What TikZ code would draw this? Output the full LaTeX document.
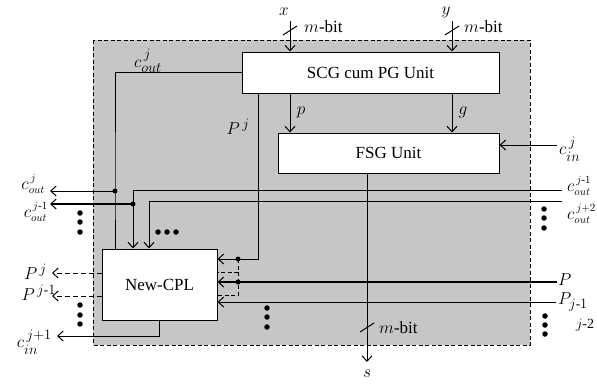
\documentclass[tikz,border=0pt]{standalone}
\usepackage{amsmath}
\usepackage{fontspec}
\setmainfont{Liberation Serif}
\usepackage{tikz}
\usetikzlibrary{arrows.meta,calc}

\begin{document}
\begin{tikzpicture}[x=1pt, y=-1pt,
    unitbox/.style={draw, fill=white, line width=1pt, inner sep=0pt, font=\fontsize{17}{20}\selectfont},
    wire/.style={line width=1pt},
    heavy/.style={line width=1.4pt},
    sig/.style={wire, -{Straight Barb[length=5.5pt, width=10pt, line width=1pt]}},
    dsig/.style={sig, dash pattern=on 5pt off 3pt},
    lbl/.style={font=\fontsize{19}{22}\selectfont, inner sep=1pt},
    tlbl/.style={font=\fontsize{16}{18}\selectfont, inner sep=0pt},
    mbit/.style={font=\fontsize{17}{20}\selectfont, inner sep=1pt},
    slbl/.style={font=\fontsize{14}{16}\selectfont, inner sep=1pt},
    jdot/.style={circle, fill=black, minimum size=5pt, inner sep=0pt},
    vdot/.style={circle, fill=black, minimum size=5.5pt, inner sep=0pt}
]
\useasboundingbox (0,0) rectangle (597,383);
% Enclosing block
\draw[line width=0.7pt, dash pattern=on 4pt off 2.5pt, fill=gray!45] (93,40) rectangle (530,345);
% Units
\node[unitbox, minimum width=257pt, minimum height=41pt] (scg) at (370.5,72.5) {SCG cum PG Unit};
\node[unitbox, minimum width=221pt, minimum height=40pt] (fsg) at (388.5,153) {FSG Unit};
\node[unitbox, minimum width=115pt, minimum height=71pt] (ncpl) at (159.5,284.5) {New-CPL};
% Inputs x and y
\coordinate (xin) at (290,21);
\coordinate (yin) at (452,21);
\draw[sig] (xin) -- (xin |- scg.north);
\draw[sig] (yin) -- (yin |- scg.north);
\draw[wire] (283,35) -- (297,26);
\draw[wire] (445,35) -- (459,26);
\node[lbl] (xlab) at (284,12) {$x$};
\node[lbl] (ylab) at (446,12) {$y$};
\node[mbit, anchor=west] (mx) at (303,27) {$m$-bit};
\node[mbit, anchor=west] (my) at (463,27) {$m$-bit};
% p and g
\draw[sig] (scg.south -| xin) -- (fsg.north -| xin);
\draw[sig] (scg.south -| yin) -- (fsg.north -| yin);
\node[lbl] (plab) at (301,112) {$p$};
\node[lbl] (glab) at (463,112) {$g$};
% Carry in of FSG
\coordinate (cinj) at (557,145);
\draw[sig] (cinj) -- (cinj -| fsg.east);
\node[lbl, anchor=west] (cinjlab) at (558,149) {$c^{\,j}_{in}$};
% Sum output
\coordinate (sout) at (367,362);
\draw[sig] (fsg.south -| sout) -- (sout);
\draw[wire] (360,332) -- (374,323);
\node[mbit, anchor=west] (ms) at (378,328) {$m$-bit};
\node[lbl] (slab) at (367,374) {$s$};
% Carry out j
\coordinate (tapA) at (115,191);
\coordinate (tapB) at (133,204);
\coordinate (coutj) at (50,191);
\coordinate (coutjm) at (50,204);
\draw[wire] (scg.west) -| (tapA) -- (tapA |- ncpl.north);
\node[lbl] (coutlab) at (148,61) {$c^{\,j}_{out}$};
\draw[sig] (tapA) -- (coutj);
\node[jdot] at (tapA) {};
% Carries from the right
\coordinate (rinA) at (562,190);
\coordinate (rinB) at (562,201);
\coordinate (dropC) at (149,201);
\draw[sig] (rinA) -| (ncpl.north -| tapB);
\draw[sig] (rinB) -- (dropC) -- (dropC |- ncpl.north);
\draw[heavy, -{Straight Barb[length=5.5pt, width=10pt, line width=1pt]}] (tapB) -- (coutjm);
\node[jdot] at (tapB) {};
\node[tlbl, anchor=west] (rlabA) at (567,186) {$c^{\,j\text{-}1}_{out}$};
\node[tlbl, anchor=west] (rlabB) at (567,214) {$c^{\,j+2}_{out}$};
\node[tlbl, anchor=east] (coutjlab) at (45,184) {$c^{\,j}_{out}$};
\node[tlbl, anchor=east] (coutjmlab) at (48,212) {$c^{\,j\text{-}1}_{out}$};
% P^j from SCG
\coordinate (pj) at (258,259);
\coordinate (dA) at (238,259);
\coordinate (dB) at (238,282);
\coordinate (dC) at (238,295);
\coordinate (dD) at (238,272);
\draw[sig] (scg.south -| pj) -- (pj) -- (pj -| ncpl.east);
\node[lbl] (pjlab) at (238,127) {$P^{\,j}$};
\draw[wire, dash pattern=on 4pt off 2.5pt] (dA) -- (dC) -- (dC -| ncpl.east);
\draw[wire, dash pattern=on 4pt off 2.5pt] (dD) -- (dD -| ncpl.east);
% P inputs from the right
\coordinate (pin) at (557,282);
\coordinate (pinm) at (556,302);
\draw[heavy, -{Straight Barb[length=5.5pt, width=10pt, line width=1pt]}] (pin) -- (pin -| ncpl.east);
\draw[sig] (pinm) -- (pinm -| ncpl.east);
\node[jdot] at (dA) {};
\node[jdot] at (dB) {};
\node[lbl, anchor=west] (pinlab) at (557,280) {$P$};
\node[lbl, anchor=west] (pinmlab) at (557,302) {$P_{j\text{-}1}$};
\node[slbl] (jtwo) at (585,325) {$j$-2};
% Outputs of New-CPL
\coordinate (pjout) at (52,273);
\coordinate (pjmout) at (52,296);
\coordinate (cbend) at (159,336);
\coordinate (cinout) at (57,336);
\draw[dsig] (pjout -| ncpl.west) -- (pjout);
\draw[dsig] (pjmout -| ncpl.west) -- (pjmout);
\draw[sig] (ncpl.south -| cbend) -- (cbend) -- (cinout);
\node[lbl, anchor=east] (pjoutlab) at (48,272) {$P^{\,j}$};
\node[lbl, anchor=east] (pjmoutlab) at (57,293) {$P^{\,j\text{-}1}$};
\node[lbl, anchor=east] (cinoutlab) at (53,342) {$c^{\,j+1}_{in}$};
% Dots
\foreach \y in {213,222,232} \node[vdot] at (80,\y) {};
\foreach \y in {305,315,324} \node[vdot] at (80,\y) {};
\foreach \y in {209,218,228} \node[vdot] at (544,\y) {};
\foreach \y in {316,325,334} \node[vdot] at (545,\y) {};
\foreach \y in {308,317,327} \node[vdot] at (267,\y) {};
\foreach \x in {158,167,176} \node[vdot] at (\x,232) {};
\end{tikzpicture}
\end{document}
